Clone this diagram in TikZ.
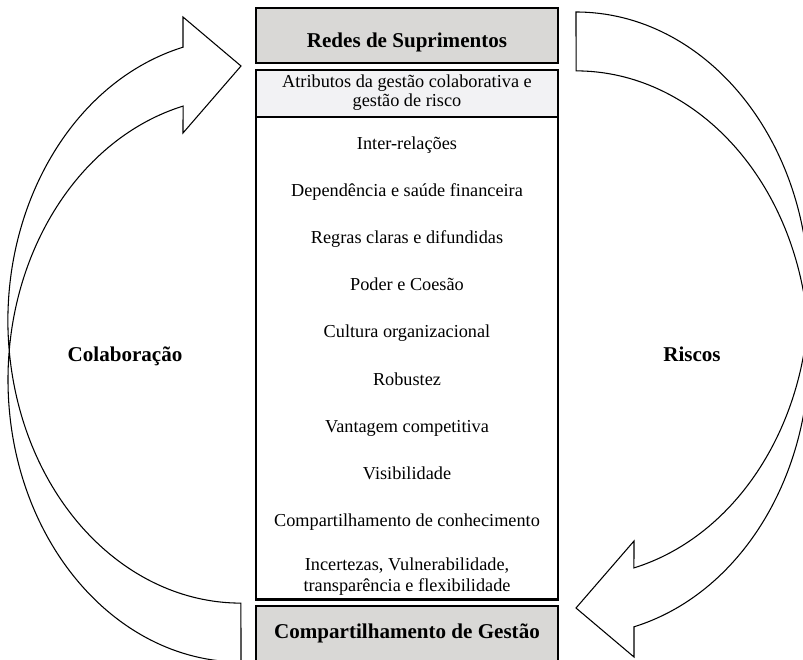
\documentclass[tikz,border=0pt]{standalone}
\usepackage{fontspec}
\setmainfont{Liberation Serif}
\definecolor{topgray}{RGB}{217,216,214}
\definecolor{bandgray}{RGB}{242,242,244}
\begin{document}
\begin{tikzpicture}[x=0.75pt,y=-0.75pt,
  box/.style={draw=black,line width=1.7pt},
  arrowshape/.style={draw=black,fill=white,line width=0.8pt,line join=miter},
  item/.style={anchor=base,font=\fontsize{13.7}{16.5}\selectfont,inner sep=0pt},
  title/.style={anchor=base,font=\fontsize{15.8}{19}\selectfont\bfseries,inner sep=0pt}]
\useasboundingbox (0,0) rectangle (803,660);
\clip (0,0) rectangle (803,660);
% left curved arrow (Colaboracao)
\draw[arrowshape] (241,662)
  arc[start angle=90,end angle=255.6,x radius=233,y radius=282.4]
  -- (183,133) -- (241,66) -- (183,17) -- (183,47.2)
  arc[start angle=255.6,end angle=90,x radius=233,y radius=282.4] -- cycle;
% right curved arrow (Riscos)
\draw[arrowshape] (576,12)
  arc[start angle=-90,end angle=75.6,x radius=233,y radius=282.4]
  -- (634,541) -- (576,608) -- (634,657) -- (634,626.8)
  arc[start angle=75.6,end angle=-90,x radius=233,y radius=282.4] -- cycle;
% boxes
\draw[box,fill=topgray] (256,8.3) rectangle (558,63.3);
\fill[bandgray] (256,70) rectangle (558,117);
\draw[box] (256,117) -- (558,117);
\draw[box] (256,70) rectangle (558,599.5);
\draw[box,fill=topgray] (256,606) rectangle (558,700);
% texts
\node[title] (redes) at (407,47.7) {Redes de Suprimentos};
\node[item] (atrib1) at (407,87.3) {Atributos da gestão colaborativa e};
\node[item] (atrib2) at (407,106) {gestão de risco};
\node[item] (i1) at (407,149) {Inter-relações};
\node[item] (i2) at (407,196.2) {Dependência e saúde financeira};
\node[item] (i3) at (407,243.4) {Regras claras e difundidas};
\node[item] (i4) at (407,290.6) {Poder e Coesão};
\node[item] (i5) at (407,337.8) {Cultura organizacional};
\node[item] (i6) at (407,385) {Robustez};
\node[item] (i7) at (407,432.2) {Vantagem competitiva};
\node[item] (i8) at (407,479.4) {Visibilidade};
\node[item] (i9) at (407,526.6) {Compartilhamento de conhecimento};
\node[item] (i10) at (407,570) {Incertezas, Vulnerabilidade,};
\node[item] (i11) at (407,591.7) {transparência e flexibilidade};
\node[title] (gestao) at (407,638.3) {Compartilhamento de Gestão};
\node[title] (colab) at (125,361.7) {Colaboração};
\node[title] (riscos) at (692,361.7) {Riscos};
\end{tikzpicture}
\end{document}
